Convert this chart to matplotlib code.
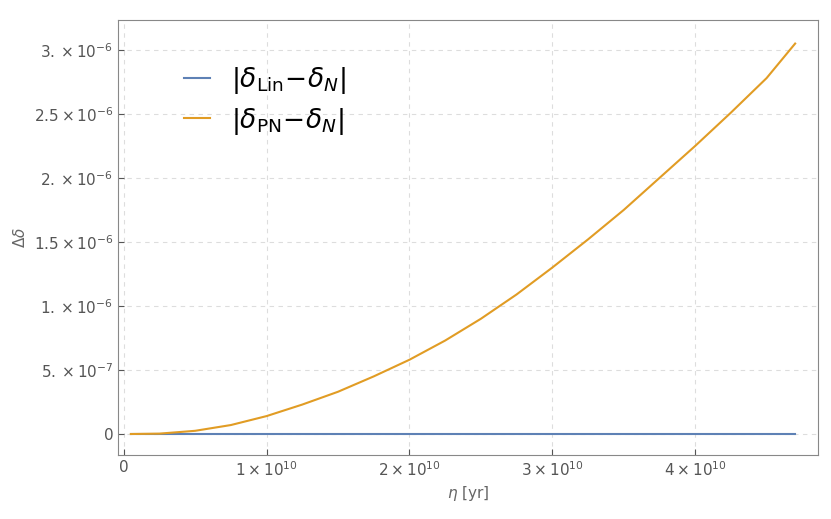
import matplotlib
matplotlib.use("Agg")
import matplotlib.pyplot as plt

eta = [0.05e10, 0.25e10, 0.5e10, 0.75e10, 1.0e10, 1.25e10, 1.5e10, 1.75e10, 2.0e10, 2.25e10,
       2.5e10, 2.75e10, 3.0e10, 3.25e10, 3.5e10, 3.75e10, 4.0e10, 4.25e10, 4.5e10, 4.7e10]
d_pn = [0.0, 0.003e-6, 0.025e-6, 0.07e-6, 0.14e-6, 0.23e-6, 0.33e-6, 0.45e-6, 0.58e-6, 0.73e-6,
        0.90e-6, 1.09e-6, 1.30e-6, 1.52e-6, 1.75e-6, 2.0e-6, 2.25e-6, 2.51e-6, 2.78e-6, 3.05e-6]
d_lin = [0.0] * len(eta)

xticks = [0, 1e10, 2e10, 3e10, 4e10]
xlabels = ["0", r"$1\times10^{10}$", r"$2\times10^{10}$", r"$3\times10^{10}$", r"$4\times10^{10}$"]
yticks = [0, 5e-7, 1e-6, 1.5e-6, 2e-6, 2.5e-6, 3e-6]
ylabels = ["0", r"$5.\times10^{-7}$", r"$1.\times10^{-6}$", r"$1.5\times10^{-6}$",
           r"$2.\times10^{-6}$", r"$2.5\times10^{-6}$", r"$3.\times10^{-6}$"]

fig = plt.figure(figsize=(8.31, 5.19), dpi=100)
ax = fig.add_axes([118/831, 64/519, 700/831, 435/519])
ax.plot(eta, d_lin, color="#5E81B5", lw=1.5, label=r"$|\delta_{\rm Lin}\!-\!\delta_N|$")
ax.plot(eta, d_pn, color="#E19C24", lw=1.5, label=r"$|\delta_{\rm PN}\!-\!\delta_N|$")
ax.set_xlim(-0.04e10, 4.86e10)
ax.set_ylim(-0.164e-6, 3.234e-6)
ax.set_xticks(xticks, xlabels)
ax.set_yticks(yticks, ylabels)
ax.grid(True, ls=(0, (4, 4)), color="#dddddd", lw=0.8)
for s in ax.spines.values():
    s.set_color("#888888")
ax.tick_params(colors="#555555", labelsize=11, direction="in", length=4)
ax.set_xlabel(r"$\eta$ [yr]", color="#666666", fontsize=11)
ax.set_ylabel(r"$\Delta\delta$", color="#666666", fontsize=11)
ax.legend(loc="upper left", bbox_to_anchor=(0.06, 0.95), frameon=False, fontsize=19,
          handlelength=1.0, labelspacing=0.35)
fig.savefig("out.png", dpi=100)
